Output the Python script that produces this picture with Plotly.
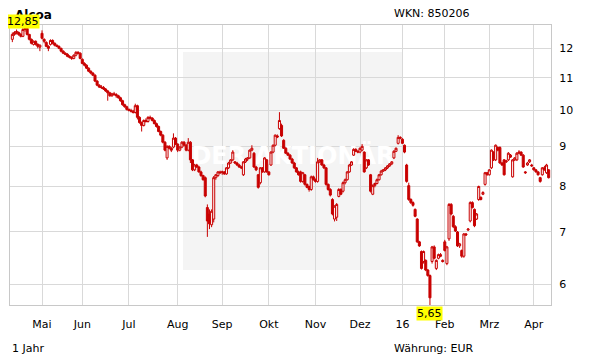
import math
import pandas as pd
import plotly.graph_objects as go

TITLE = "Alcoa"
WKN = "WKN: 850206"
PERIOD = "1 Jahr"
CURRENCY = "Währung: EUR"
WATERMARK = "DER AKTIONÄR"

HOLIDAYS = ["2015-05-01", "2015-05-25", "2015-12-24", "2015-12-25", "2015-12-31",
            "2016-01-01", "2016-03-25", "2016-03-28"]
DATES = [d.strftime("%Y-%m-%d") for d in pd.bdate_range("2015-04-13", "2016-04-12")
         if d.strftime("%Y-%m-%d") not in HOLIDAYS]

MONTH_KEYS = ["2015-05", "2015-06", "2015-07", "2015-08", "2015-09", "2015-10",
              "2015-11", "2015-12", "2016-01", "2016-02", "2016-03", "2016-04"]
MONTH_LABELS = ["Mai", "Jun", "Jul", "Aug", "Sep", "Okt", "Nov", "Dez", "16", "Feb", "Mrz", "Apr"]
Y_TICKS = [6, 7, 8, 9, 10, 11, 12]

OPEN = [
    12.32, 12.50, 12.57, 12.57, 12.50, 12.43, 12.68, 12.72, 12.50, 12.32,
    12.14, 12.25, 12.14, 12.04, 12.54, 12.32, 12.21, 12.07, 12.14, 12.28,
    12.18, 12.11, 12.07, 12.00, 11.90, 11.83, 11.79, 11.72, 11.69, 11.65,
    11.76, 11.86, 11.83, 11.62, 11.48, 11.42, 11.32, 11.22, 11.16, 11.09,
    10.90, 10.77, 10.71, 10.70, 10.65, 10.59, 10.53, 10.44, 10.50, 10.48,
    10.44, 10.38, 10.29, 10.17, 10.11, 10.03, 10.00, 9.98, 9.94, 10.14,
    9.80, 9.65, 9.57, 9.71, 9.68, 9.80, 9.78, 9.71, 9.62, 9.54,
    9.40, 9.30, 9.11, 8.70, 9.00, 8.95, 8.98, 9.22, 9.06, 8.90,
    8.98, 9.11, 9.03, 8.90, 9.11, 8.65, 8.40, 8.52, 8.47, 8.35,
    8.26, 8.21, 7.52, 7.38, 7.15, 7.27, 8.21, 8.26, 8.35, 8.33,
    8.35, 8.30, 8.45, 8.57, 8.65, 8.60, 8.57, 8.52, 8.47, 8.28,
    8.60, 8.67, 8.70, 8.90, 8.82, 8.47, 8.28, 8.09, 8.45, 8.35,
    8.65, 8.35, 8.52, 8.85, 9.03, 9.28, 9.48, 9.57, 9.16, 8.95,
    8.82, 8.77, 8.67, 8.57, 8.45, 8.35, 8.35, 8.12, 8.28, 8.05,
    8.00, 7.93, 8.23, 8.16, 8.12, 8.60, 8.65, 8.52, 8.45, 8.05,
    7.93, 7.70, 7.27, 7.31, 7.77, 7.93, 7.89, 8.09, 8.16, 8.35,
    8.52, 8.77, 8.92, 8.87, 8.85, 8.90, 8.85, 8.45, 8.65, 8.28,
    7.82, 8.02, 8.07, 8.16, 8.28, 8.37, 8.40, 8.45, 8.50, 8.55,
    8.70, 8.87, 9.08, 9.24, 9.19, 9.03, 8.52, 8.02, 7.70, 7.63,
    7.48, 7.27, 6.80, 6.61, 6.42, 6.44, 6.26, 6.16, 6.42, 6.70,
    6.29, 6.48, 6.55, 6.44, 6.80, 6.38, 6.86, 7.59, 7.33, 7.11,
    7.00, 6.72, 6.63, 6.52, 6.96, 7.04, 7.23, 7.63, 7.48, 7.27,
    7.70, 7.75, 7.82, 8.05, 8.33, 8.28, 8.45, 8.85, 8.65, 8.97,
    8.97, 8.57, 8.65, 8.60, 8.65, 8.77, 8.23, 8.65, 8.65, 8.82,
    8.85, 8.77, 8.35, 8.52, 8.60, 8.52, 8.45, 8.40, 8.35, 8.21,
    8.28, 8.45, 8.33, 8.40,
]
HIGH = [
    12.57, 12.62, 12.68, 12.61, 12.55, 12.85, 12.78, 12.75, 12.52, 12.35,
    12.28, 12.28, 12.18, 12.14, 12.65, 12.36, 12.25, 12.11, 12.32, 12.32,
    12.21, 12.14, 12.10, 12.02, 11.93, 11.86, 11.83, 11.76, 11.72, 11.79,
    11.90, 11.90, 11.86, 11.65, 11.52, 11.45, 11.35, 11.25, 11.19, 11.12,
    10.93, 10.80, 10.77, 10.74, 10.68, 10.62, 10.56, 10.53, 10.56, 10.52,
    10.47, 10.41, 10.32, 10.20, 10.14, 10.06, 10.05, 10.02, 10.20, 10.17,
    9.83, 9.68, 9.74, 9.77, 9.83, 9.85, 9.80, 9.74, 9.65, 9.57,
    9.43, 9.33, 9.14, 9.03, 9.03, 8.98, 9.35, 9.25, 9.08, 9.00,
    9.14, 9.14, 9.06, 9.22, 9.14, 8.67, 8.55, 8.55, 8.50, 8.38,
    8.28, 8.24, 7.59, 7.48, 7.48, 8.25, 8.30, 8.37, 8.38, 8.38,
    8.37, 8.47, 8.60, 8.67, 8.90, 8.62, 8.60, 8.55, 8.50, 8.62,
    8.70, 8.72, 8.92, 9.03, 8.85, 8.50, 8.30, 8.47, 8.47, 8.72,
    8.67, 8.37, 8.87, 9.05, 9.32, 9.32, 9.95, 9.62, 9.19, 8.98,
    8.85, 8.80, 8.70, 8.60, 8.47, 8.38, 8.38, 8.35, 8.30, 8.07,
    8.02, 8.26, 8.26, 8.19, 8.70, 8.67, 8.67, 8.55, 8.47, 8.07,
    7.96, 7.73, 7.57, 7.62, 7.96, 7.96, 8.12, 8.19, 8.37, 8.55,
    8.62, 8.95, 8.95, 8.90, 8.97, 9.06, 8.87, 8.67, 8.67, 8.30,
    8.05, 8.09, 8.19, 8.30, 8.40, 8.42, 8.47, 8.52, 8.57, 8.62,
    8.90, 8.97, 9.30, 9.27, 9.22, 9.05, 8.55, 8.09, 7.73, 7.66,
    7.50, 7.29, 6.82, 6.63, 6.63, 6.46, 6.28, 6.18, 6.72, 6.73,
    6.46, 6.57, 6.58, 6.46, 6.84, 6.72, 7.62, 7.62, 7.36, 7.14,
    7.02, 6.78, 6.65, 6.98, 6.98, 7.08, 7.66, 7.66, 7.50, 7.40,
    8.02, 7.77, 7.89, 8.35, 8.35, 8.42, 8.92, 8.87, 9.05, 9.00,
    9.00, 8.60, 8.67, 8.65, 8.85, 8.80, 8.67, 8.72, 8.85, 8.90,
    8.87, 8.80, 8.37, 8.60, 8.67, 8.55, 8.47, 8.42, 8.37, 8.23,
    8.47, 8.50, 8.55, 8.42,
]
LOW = [
    12.22, 12.45, 12.50, 12.45, 12.39, 12.40, 12.60, 12.46, 12.28, 12.14,
    12.10, 12.10, 12.00, 11.90, 12.32, 12.18, 12.04, 11.90, 12.10, 12.14,
    12.07, 12.04, 11.97, 11.86, 11.80, 11.76, 11.69, 11.65, 11.60, 11.62,
    11.72, 11.79, 11.62, 11.45, 11.38, 11.29, 11.19, 11.12, 11.06, 10.87,
    10.74, 10.68, 10.65, 10.62, 10.56, 10.29, 10.41, 10.41, 10.44, 10.38,
    10.35, 10.26, 10.14, 10.08, 10.00, 9.97, 9.94, 9.91, 9.91, 9.74,
    9.62, 9.40, 9.54, 9.65, 9.65, 9.74, 9.68, 9.60, 9.51, 9.38,
    9.27, 9.08, 8.87, 8.65, 8.92, 8.85, 8.95, 9.03, 8.85, 8.87,
    8.95, 9.00, 8.87, 8.87, 8.57, 8.37, 8.37, 8.45, 8.33, 8.23,
    8.14, 7.75, 6.90, 7.06, 7.10, 7.20, 8.16, 8.23, 8.30, 8.28,
    8.28, 8.28, 8.42, 8.55, 8.62, 8.55, 8.50, 8.45, 8.42, 8.25,
    8.57, 8.62, 8.67, 8.87, 8.45, 8.37, 7.95, 8.05, 8.33, 8.33,
    8.33, 8.26, 8.50, 8.82, 9.00, 9.22, 9.45, 9.25, 8.93, 8.80,
    8.75, 8.65, 8.55, 8.42, 8.33, 8.26, 8.09, 8.09, 8.02, 7.96,
    7.88, 7.90, 8.14, 8.09, 8.09, 8.57, 8.50, 8.42, 8.02, 7.90,
    7.77, 7.35, 7.22, 7.23, 7.75, 7.80, 7.86, 8.05, 8.14, 8.33,
    8.50, 8.75, 8.85, 8.82, 8.82, 8.87, 8.33, 8.42, 8.50, 7.86,
    7.80, 7.98, 8.05, 8.14, 8.26, 8.35, 8.37, 8.42, 8.47, 8.52,
    8.67, 8.85, 9.05, 9.19, 9.06, 8.82, 8.09, 7.67, 7.60, 7.54,
    7.31, 6.78, 6.70, 6.27, 6.38, 6.24, 6.14, 5.65, 6.38, 6.46,
    6.26, 6.46, 6.50, 6.40, 6.61, 6.35, 6.82, 7.35, 7.08, 7.00,
    6.70, 6.68, 6.49, 6.49, 6.92, 7.02, 7.20, 7.50, 7.10, 7.25,
    7.67, 7.68, 7.80, 8.02, 8.26, 8.26, 8.42, 8.62, 8.62, 8.87,
    8.55, 8.50, 8.26, 8.57, 8.62, 8.70, 8.21, 8.62, 8.62, 8.80,
    8.75, 8.45, 8.30, 8.50, 8.57, 8.47, 8.38, 8.33, 8.26, 8.09,
    8.26, 8.38, 8.30, 8.19,
]
CLOSE = [
    12.50, 12.57, 12.61, 12.50, 12.43, 12.68, 12.72, 12.50, 12.32, 12.18,
    12.25, 12.14, 12.07, 12.11, 12.36, 12.25, 12.07, 12.00, 12.28, 12.18,
    12.11, 12.07, 12.00, 11.90, 11.83, 11.79, 11.72, 11.69, 11.65, 11.76,
    11.86, 11.83, 11.65, 11.48, 11.42, 11.32, 11.22, 11.16, 11.09, 10.90,
    10.77, 10.71, 10.70, 10.65, 10.59, 10.53, 10.44, 10.50, 10.48, 10.44,
    10.38, 10.29, 10.17, 10.11, 10.03, 10.00, 9.98, 9.94, 10.14, 9.80,
    9.65, 9.57, 9.71, 9.68, 9.80, 9.78, 9.71, 9.62, 9.54, 9.40,
    9.30, 9.11, 8.90, 9.00, 8.95, 8.90, 9.22, 9.06, 8.90, 8.98,
    9.11, 9.03, 8.90, 9.11, 8.65, 8.40, 8.52, 8.47, 8.35, 8.26,
    8.16, 7.78, 7.23, 7.17, 7.44, 8.21, 8.28, 8.35, 8.33, 8.35,
    8.30, 8.45, 8.57, 8.65, 8.85, 8.57, 8.52, 8.47, 8.45, 8.60,
    8.67, 8.70, 8.90, 8.95, 8.47, 8.40, 7.98, 8.45, 8.35, 8.70,
    8.35, 8.28, 8.85, 9.03, 9.30, 9.25, 9.71, 9.28, 8.95, 8.82,
    8.77, 8.67, 8.57, 8.45, 8.35, 8.28, 8.12, 8.33, 8.05, 7.98,
    7.93, 8.23, 8.16, 8.12, 8.60, 8.65, 8.52, 8.45, 8.05, 7.93,
    7.80, 7.38, 7.55, 7.59, 7.93, 7.82, 8.09, 8.16, 8.35, 8.52,
    8.60, 8.92, 8.87, 8.85, 8.95, 9.00, 8.35, 8.65, 8.52, 7.89,
    8.02, 8.07, 8.16, 8.28, 8.37, 8.40, 8.45, 8.50, 8.55, 8.60,
    8.87, 8.95, 9.24, 9.22, 9.08, 8.85, 8.12, 7.70, 7.63, 7.57,
    7.33, 6.80, 6.72, 6.29, 6.61, 6.26, 6.16, 5.77, 6.70, 6.48,
    6.44, 6.55, 6.52, 6.42, 6.63, 6.70, 7.59, 7.38, 7.11, 7.02,
    6.72, 6.76, 6.52, 6.96, 6.94, 7.06, 7.63, 7.52, 7.13, 7.38,
    8.00, 7.70, 7.86, 8.33, 8.28, 8.40, 8.90, 8.65, 9.03, 8.90,
    8.57, 8.52, 8.28, 8.62, 8.82, 8.72, 8.65, 8.70, 8.82, 8.85,
    8.77, 8.47, 8.33, 8.57, 8.65, 8.50, 8.40, 8.35, 8.28, 8.12,
    8.45, 8.40, 8.52, 8.21,
]

RED = "#c80000"
GRID = "#d9d9d9"
FONT = "DejaVu Sans"

# plot area in page pixels (page body has an 8px default margin)
PAGE_OFF = 8
PL, PR, PT, PB = 10, 551, 25, 305
W, H = 611 - PAGE_OFF, 364 - PAGE_OFF
PW, PH = PR - PL, PB - PT


def px(x):
    return (x - PL) / PW


def py(y):
    return (PB - y) / PH


tickvals = [next(d for d in DATES if d.startswith(k)) for k in MONTH_KEYS]
imax = max(range(len(HIGH)), key=lambda i: HIGH[i])
imin = min(range(len(LOW)), key=lambda i: LOW[i])
ylo, yhi = math.log10(min(LOW)), math.log10(max(HIGH))

fig = go.Figure()
# watermark on base axes (drawn beneath the candle subplot)
fig.add_trace(go.Scatter(
    x=[px(293)], y=[py(158)], mode="text", text=[WATERMARK],
    textfont=dict(family=FONT, size=24, color="white", weight="bold"),
    hoverinfo="skip", showlegend=False, xaxis="x", yaxis="y"))

fig.add_trace(go.Candlestick(
    x=DATES, open=OPEN, high=HIGH, low=LOW, close=CLOSE,
    increasing=dict(line=dict(color=RED, width=1), fillcolor="white"),
    decreasing=dict(line=dict(color=RED, width=1), fillcolor=RED),
    whiskerwidth=0, showlegend=False, xaxis="x2", yaxis="y2"))

fig.update_layout(
    width=W, height=H,
    margin=dict(l=PL - PAGE_OFF, r=W - (PR - PAGE_OFF), t=PT - PAGE_OFF, b=H - (PB - PAGE_OFF)),
    paper_bgcolor="white", plot_bgcolor="white",
    font=dict(family=FONT, size=11, color="black"),
    showlegend=False,
    boxgap=0.05, boxgroupgap=0,
    xaxis=dict(range=[0, 1], visible=False, fixedrange=True),
    yaxis=dict(range=[0, 1], visible=False, fixedrange=True),
    xaxis2=dict(type="category", overlaying="x", range=[-1.1, len(DATES) + 0.1],
                tickvals=tickvals, ticktext=MONTH_LABELS,
                showgrid=True, gridcolor=GRID, gridwidth=1,
                showline=True, mirror=True, linecolor="#c8c8c8", linewidth=1,
                ticks="", ticklabelstandoff=9, rangeslider=dict(visible=False),
                tickfont=dict(family=FONT, size=11, color="black")),
    yaxis2=dict(type="log", overlaying="y", side="right", range=[ylo, yhi],
                tickvals=Y_TICKS, ticktext=[str(v) for v in Y_TICKS],
                showgrid=True, gridcolor=GRID, gridwidth=1,
                showline=True, mirror=True, linecolor="#c8c8c8", linewidth=1,
                ticks="", ticklabelstandoff=5,
                tickfont=dict(family=FONT, size=11, color="black")),
    shapes=[dict(type="rect", xref="paper", yref="paper", x0=px(183), x1=px(402),
                 y0=py(270), y1=py(52), fillcolor="#f4f4f4", line=dict(width=0),
                 layer="below")],
)

fig.add_annotation(text=f"<b>{TITLE}</b>", xref="paper", yref="paper", x=px(13), y=py(15),
                   xanchor="left", yanchor="middle", showarrow=False,
                   font=dict(family=FONT, size=12, color="black"))
fig.add_annotation(text=WKN, xref="paper", yref="paper", x=px(392), y=py(14),
                   xanchor="left", yanchor="middle", showarrow=False)
fig.add_annotation(text=PERIOD, xref="paper", yref="paper", x=px(10), y=py(349),
                   xanchor="left", yanchor="middle", showarrow=False)
fig.add_annotation(text=CURRENCY, xref="paper", yref="paper", x=px(392), y=py(349),
                   xanchor="left", yanchor="middle", showarrow=False)
fig.add_annotation(text=f"{HIGH[imax]:.2f}".replace(".", ","), xref="x2", yref="y2",
                   x=DATES[imax], y=math.log10(HIGH[imax]), xanchor="center", yanchor="middle",
                   yshift=4, showarrow=False, bgcolor="#ffff00", borderpad=0)
fig.add_annotation(text=f"{LOW[imin]:.2f}".replace(".", ","), xref="x2", yref="y2",
                   x=DATES[imin], y=math.log10(LOW[imin]), xanchor="center", yanchor="middle",
                   yshift=-8, showarrow=False, bgcolor="#ffff00", borderpad=0)

fig.write_html("out.html")
